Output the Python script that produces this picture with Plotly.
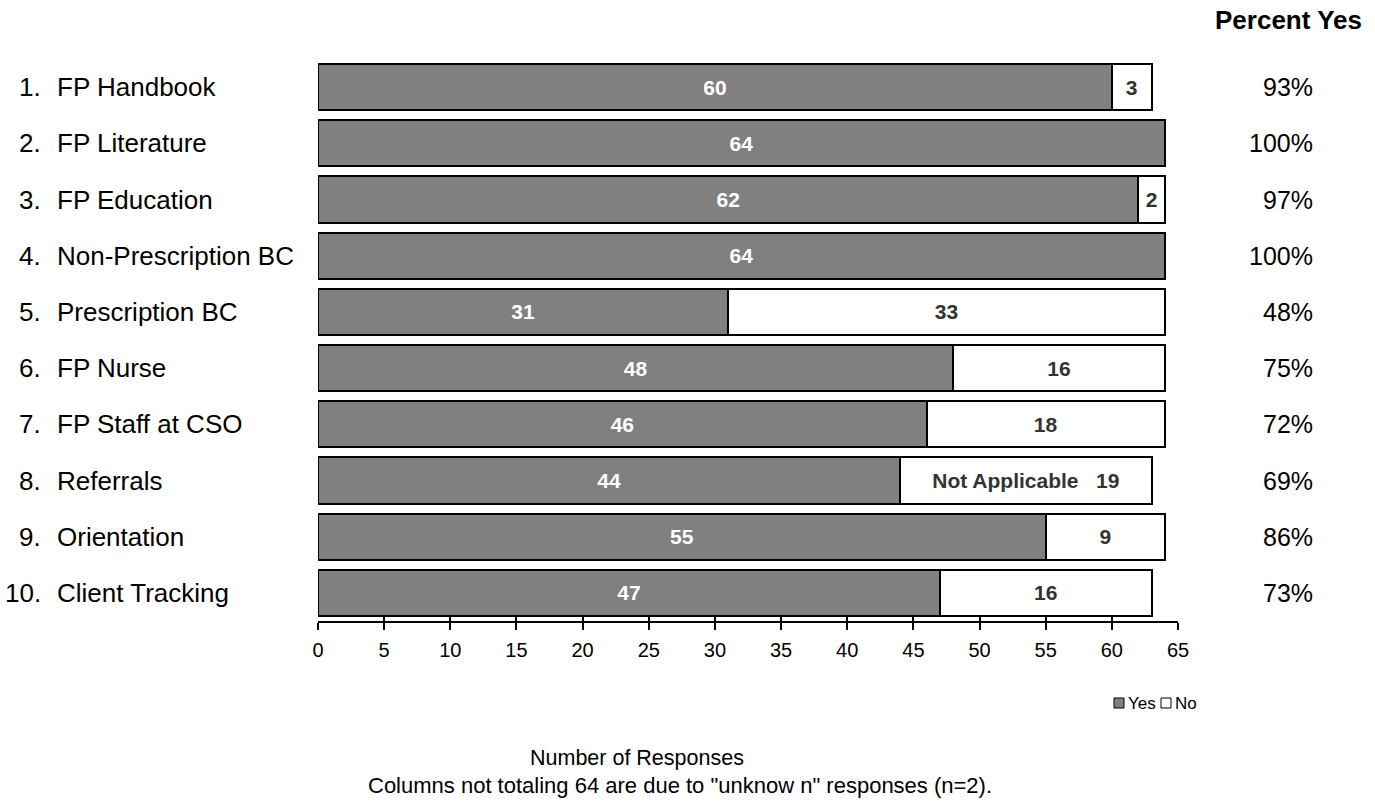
import plotly.graph_objects as go

# Survey items and response counts
numbers = ["1.", "2.", "3.", "4.", "5.", "6.", "7.", "8.", "9.", "10."]
items = ["FP Handbook", "FP Literature", "FP Education", "Non-Prescription BC",
         "Prescription BC", "FP Nurse", "FP Staff at CSO", "Referrals",
         "Orientation", "Client Tracking"]
yes_counts = [60, 64, 62, 64, 31, 48, 46, 44, 55, 47]
no_counts = [3, 0, 2, 0, 33, 16, 18, 19, 9, 16]
no_prefix = ["", "", "", "", "", "", "", "Not Applicable   ", "", ""]
percent_yes = ["93%", "100%", "97%", "100%", "48%", "75%", "72%", "69%", "86%", "73%"]
x_ticks = list(range(0, 66, 5))

FONT = "Liberation Sans, Arial, sans-serif"
YES_COLOR = "#808080"
NO_COLOR = "#ffffff"

# Plot area geometry (px)
W, H = 1375, 805
L, R, T, B = 318, 197, 59, 184
PW = W - L - R
PH = H - T - B


def px_x(px):
    return (px - L) / PW


def px_y(py):
    return (H - B - py) / PH


fig = go.Figure()

fig.add_trace(go.Bar(
    name="Yes", y=items, x=yes_counts, orientation="h",
    marker=dict(color=YES_COLOR, line=dict(color="#000000", width=2)),
    text=[str(v) for v in yes_counts], textposition="inside",
    insidetextanchor="middle", textangle=0,
    textfont=dict(family=FONT, size=21, color="#ffffff", weight="bold"),
    hoverinfo="skip",
))

fig.add_trace(go.Bar(
    name="No", y=items, x=no_counts, orientation="h",
    marker=dict(color=NO_COLOR, line=dict(color="#000000", width=2)),
    text=[(p + str(v)) if v else "" for p, v in zip(no_prefix, no_counts)],
    textposition="inside", insidetextanchor="middle", textangle=0,
    textfont=dict(family=FONT, size=21, color="#333333", weight="bold"),
    hoverinfo="skip",
))

# Invisible trace on an overlaid axis to draw upward tick marks
fig.add_trace(go.Scatter(x=[0], y=[items[0]], xaxis="x2", mode="markers",
                         marker=dict(opacity=0), showlegend=False, hoverinfo="skip"))

annotations = []
for num, name, pct in zip(numbers, items, percent_yes):
    annotations.append(dict(text=num, x=px_x(43), y=name, xref="paper", yref="y",
                            xanchor="right", yanchor="middle", showarrow=False,
                            font=dict(family=FONT, size=26, color="#000000")))
    annotations.append(dict(text=name, x=px_x(55), y=name, xref="paper", yref="y",
                            xanchor="left", yanchor="middle", showarrow=False,
                            font=dict(family=FONT, size=26, color="#000000")))
    annotations.append(dict(text=pct, x=px_x(1315), y=name, xref="paper", yref="y",
                            xanchor="right", yanchor="middle", showarrow=False,
                            font=dict(family=FONT, size=25, color="#000000")))

annotations.append(dict(text="<b>Percent Yes</b>", x=px_x(1364), y=px_y(20),
                        xref="paper", yref="paper", xanchor="right", yanchor="middle",
                        showarrow=False, font=dict(family=FONT, size=26, color="#000000")))
annotations.append(dict(text="Number of Responses", x=px_x(637), y=px_y(758),
                        xref="paper", yref="paper", xanchor="center", yanchor="middle",
                        showarrow=False, font=dict(family=FONT, size=21.5, color="#000000")))
annotations.append(dict(text='Columns not totaling 64 are due to "unknow n" responses (n=2).',
                        x=px_x(680), y=px_y(785), xref="paper", yref="paper",
                        xanchor="center", yanchor="middle", showarrow=False,
                        font=dict(family=FONT, size=22, color="#000000")))

# Legend: small swatches with labels
shapes = []
legend_entries = [("Yes", YES_COLOR, 1114), ("No", NO_COLOR, 1161)]
for label, color, left in legend_entries:
    shapes.append(dict(type="rect", xref="paper", yref="paper",
                       x0=px_x(left), x1=px_x(left + 10), y0=px_y(708), y1=px_y(698),
                       fillcolor=color, line=dict(color="#000000", width=1)))
    annotations.append(dict(text=label, x=px_x(left + 12), y=px_y(703),
                            xref="paper", yref="paper", xanchor="left", yanchor="middle",
                            showarrow=False,
                            font=dict(family=FONT, size=17, color="#000000")))

fig.update_layout(
    width=W, height=H,
    margin=dict(l=L, r=R, t=T, b=B),
    barmode="stack", bargap=0.18,
    plot_bgcolor="#ffffff", paper_bgcolor="#ffffff",
    font=dict(family=FONT, color="#000000"),
    xaxis=dict(range=[0, 65], tickmode="array", tickvals=x_ticks,
               ticks="outside", ticklen=7, tickwidth=1.5, tickcolor="#000000",
               showline=True, linecolor="#000000", linewidth=1.5,
               showgrid=False, zeroline=False, ticklabelstandoff=3,
               tickfont=dict(family=FONT, size=20, color="#000000")),
    xaxis2=dict(range=[0, 65], overlaying="x", side="bottom", anchor="y",
                tickmode="array", tickvals=x_ticks, ticks="inside", ticklen=5,
                tickwidth=1.5, tickcolor="#000000", showticklabels=False,
                showgrid=False, zeroline=False, showline=False),
    yaxis=dict(range=[9.5, -0.5], showticklabels=False, showgrid=False,
               zeroline=False, showline=False, ticks=""),
    annotations=annotations,
    shapes=shapes,
    showlegend=False,
)

fig.write_html("out.html")
